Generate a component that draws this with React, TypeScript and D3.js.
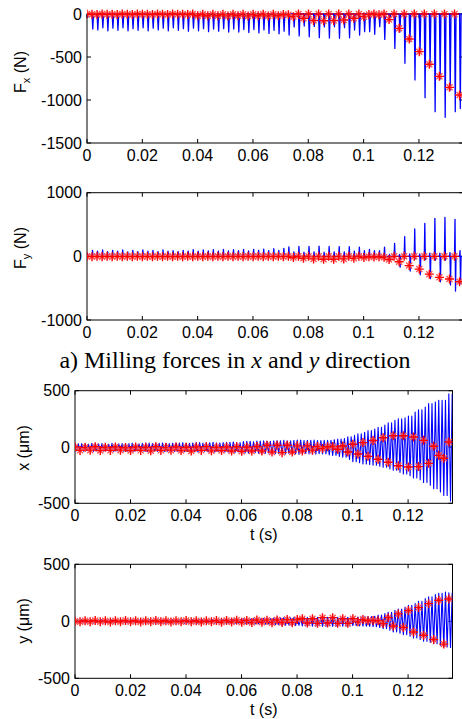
import React from 'react';
import * as d3 from 'd3';

// ---------- data ----------
const PERIOD = 0.00182; // tooth period, s (one sample per period)
const T_DOMAIN: [number, number] = [0, 0.136];
const X_TICKS = [0, 0.02, 0.04, 0.06, 0.08, 0.1, 0.12];

const FX_TICKS = [0, -500, -1000, -1500];
const FY_TICKS = [1000, 0, -1000];
const DISP_TICKS = [500, 0, -500];

// Fx: spike depth per tooth period (N)
const fxPeak = [
  -40, -175, -185, -160, -195, -165, -190, -160, -195, -170,
  -190, -160, -195, -165, -185, -165, -195, -160, -190, -170,
  -200, -165, -195, -170, -205, -175, -200, -170, -210, -175,
  -210, -180, -215, -180, -220, -185, -225, -190, -230, -200,
  -245, -150, -255, -140, -265, -145, -275, -150, -280, -148,
  -283, -159, -276, -186, -244, -205, -205, -236, -147, -295,
  -80, -400, -210, -573, -322, -767, -457, -973, -612, -1136,
  -756, -1201, -884, -1136, -1100,
];
// Fx: once-per-period samples (N)
const fxStar = [
  0, -3, -5, 0, -4, -2, -5, 0, -3, -5,
  0, -4, -2, -5, 0, -3, -5, 0, -4, -2,
  -5, 0, -20, -3, -20, -2, -20, -4, -22, -3,
  -20, -2, -22, -4, -20, -3, -22, -2, -20, -5,
  -8, -31, 0, -50, 0, -75, 0, -78, 0, -75,
  0, -70, 0, -50, 0, -31, -5, 0, -8, 0,
  -65, 0, -167, 0, -291, 0, -438, 0, -585, 0,
  -725, 0, -853, 0, -942,
];

// Fy: max / min per tooth period (N)
const fyHi = [
  40, 95, 80, 100, 75, 95, 80, 100, 70, 95,
  75, 100, 80, 95, 75, 100, 80, 90, 75, 95,
  80, 105, 80, 100, 85, 105, 80, 110, 85, 105,
  90, 110, 85, 110, 95, 115, 90, 120, 95, 125,
  150, 70, 155, 65, 155, 70, 160, 65, 155, 70,
  153, 70, 153, 80, 145, 90, 110, 90, 90, 145,
  30, 204, 30, 310, 40, 430, 40, 518, 50, 597,
  50, 612, 60, 581, 90,
];
const fyLo = [
  -10, -15, -10, -15, -10, -15, -10, -15, -10, -15,
  -10, -15, -10, -15, -10, -15, -10, -15, -10, -15,
  -10, -15, -10, -15, -10, -15, -10, -15, -10, -15,
  -10, -15, -10, -15, -10, -15, -10, -15, -10, -15,
  -10, -30, -10, -30, -10, -35, -10, -35, -10, -35,
  -10, -30, -10, -30, -10, -30, -20, -30, -20, -40,
  -80, -20, -170, -30, -230, -40, -290, -50, -350, -60,
  -400, -60, -450, -545, -430,
];
const fyStar = [
  0, -5, 0, -5, 0, -5, 0, -5, 0, -5,
  0, -5, 0, -5, 0, -5, 0, -5, 0, -5,
  0, -5, 0, -5, 0, -5, 0, -5, 0, -5,
  0, -5, 0, -5, 0, -5, 0, -5, 0, -5,
  0, -20, 0, -30, 0, -40, 0, -45, 0, -45,
  0, -40, 0, -30, 0, -20, -5, -10, -5, -15,
  -50, 0, -85, 0, -145, 0, -200, 0, -280, 0,
  -330, 0, -357, 0, -398,
];

// x displacement: upper / lower envelope per tooth period (um)
const xHi = [
  28, 30, 25, 32, 28, 30, 26, 33, 28, 30,
  30, 34, 28, 32, 35, 30, 33, 36, 30, 34,
  35, 38, 32, 36, 40, 35, 38, 42, 36, 40,
  42, 45, 40, 48, 50, 46, 52, 55, 50, 55,
  56, 60, 55, 60, 62, 58, 60, 62, 58, 60,
  60, 65, 70, 75, 90, 104, 118, 130, 145, 160,
  175, 195, 215, 237, 250, 260, 275, 310, 330, 355,
  385, 400, 414, 414, 473,
];
const xLo = [
  -35, -38, -32, -40, -35, -36, -33, -40, -35, -38,
  -38, -40, -35, -38, -42, -36, -40, -42, -38, -40,
  -40, -42, -38, -44, -45, -40, -44, -46, -42, -45,
  -46, -50, -45, -52, -55, -50, -56, -58, -55, -60,
  -60, -62, -58, -62, -65, -60, -62, -64, -60, -62,
  -70, -75, -85, -90, -110, -130, -140, -150, -155, -162,
  -170, -180, -195, -207, -225, -240, -255, -275, -290, -315,
  -340, -370, -400, -430, -480,
];
const xStar = [
  0, -30, -3, -28, 2, -32, -2, -30, 0, -28,
  -4, -32, 0, -30, -2, -34, 2, -30, -3, -28,
  0, -32, -2, -35, 0, -30, 3, -34, -2, -32,
  0, -35, 2, -38, 0, -36, 5, -35, 15, -44,
  15, -50, 15, -44, 10, -35, 10, -28, 5, -14,
  2, 5, -20, 9, -44, 24, -62, 39, -83, 58,
  -109, 82, -136, 100, -166, 100, -177, 89, -174, 59,
  -145, 6, -74, -100, 44,
];

// y displacement (um)
const yHi = [
  12, 15, 14, 16, 13, 15, 14, 17, 13, 15,
  14, 16, 13, 15, 16, 14, 15, 17, 14, 16,
  15, 17, 14, 16, 18, 15, 17, 18, 16, 18,
  18, 20, 18, 22, 20, 24, 22, 25, 24, 28,
  30, 32, 30, 35, 33, 36, 34, 38, 35, 38,
  36, 38, 35, 38, 36, 35, 38, 40, 42, 45,
  55, 67, 80, 96, 108, 125, 140, 155, 175, 199,
  215, 234, 245, 257, 250,
];
const yLo = [
  -12, -15, -14, -16, -13, -15, -14, -17, -13, -15,
  -14, -16, -13, -15, -16, -14, -15, -17, -14, -16,
  -15, -17, -14, -16, -18, -15, -17, -18, -16, -18,
  -18, -20, -18, -22, -20, -24, -22, -25, -24, -28,
  -30, -35, -32, -38, -35, -40, -36, -42, -38, -45,
  -40, -45, -38, -42, -40, -38, -40, -42, -45, -48,
  -55, -64, -78, -94, -105, -117, -130, -146, -160, -175,
  -185, -196, -210, -225, -230,
];
const yStar = [
  0, -5, 5, -3, 6, -5, 4, -6, 5, -4,
  6, -5, 5, -6, 4, -5, 6, -4, 5, -6,
  4, -5, 6, -5, 5, -6, 4, -5, 6, -8,
  8, -6, 10, -8, 8, -10, 12, -8, 10, -12,
  12, -10, 15, -12, 15, 23, -15, 23, -18, 32,
  -15, 32, -18, 23, -18, 23, -5, 15, 5, 8,
  5, -20, 32, -41, 65, -55, 95, -94, 120, -123,
  155, -160, 184, -200, 196,
];

// ---------- signal builders ----------
type Pt = [number, number];
function spikeSignal(peak: number[]): Pt[] {
  const pts: Pt[] = [];
  peak.forEach((v, k) => {
    const t0 = k * PERIOD;
    pts.push([t0, 0], [t0 + 0.15 * PERIOD, v], [t0 + 0.3 * PERIOD, 0]);
  });
  pts.push([peak.length * PERIOD, 0]);
  return pts;
}
function swingSignal(hi: number[], lo: number[]): Pt[] {
  const pts: Pt[] = [];
  hi.forEach((h, k) => {
    const t0 = k * PERIOD;
    pts.push([t0, 0], [t0 + 0.1 * PERIOD, h], [t0 + 0.2 * PERIOD, lo[k]], [t0 + 0.3 * PERIOD, 0]);
  });
  pts.push([hi.length * PERIOD, 0]);
  return pts;
}
function oscSignal(hi: number[], lo: number[]): Pt[] {
  const pts: Pt[] = [];
  hi.forEach((h, k) => {
    for (let j = 0; j < 3; j++) {
      const n = 3 * k + j;
      pts.push([(k + j / 3) * PERIOD, n % 2 === 0 ? h : lo[k]]);
    }
  });
  return pts;
}
function samples(vals: number[]): Pt[] {
  return vals.map((v, k) => [k * PERIOD, v]);
}

// ---------- panel ----------
const FONT = "'Liberation Sans', Arial, Helvetica, sans-serif";

type PanelProps = {
  id: string;
  left: number; right: number; top: number; bottom: number;
  yDomain: [number, number];
  yTicks: number[];
  signal: Pt[];
  stars: Pt[];
  lineWidth: number;
  ylabel: React.ReactNode;
  ylabelX: number; ylabelY: number;
  xlabel?: string; xlabelY?: number;
};

function Panel(p: PanelProps) {
  const x = d3.scaleLinear().domain(T_DOMAIN).range([p.left, p.right]);
  const y = d3.scaleLinear().domain(p.yDomain).range([p.bottom, p.top]);
  const line = d3.line<Pt>().x(d => x(d[0])).y(d => y(d[1]));
  const tl = 4;
  const plusPath = 'M-4.5,0H4.5M0,-4.5V4.5';
  const crossPath = 'M-3,-3L3,3M-3,3L3,-3';
  const fmt = (v: number) => (v === 0 ? '0' : String(v));
  return (
    <g>
      <defs>
        <clipPath id={p.id}>
          <rect x={p.left} y={p.top - 6} width={p.right - p.left} height={p.bottom - p.top + 12} />
        </clipPath>
      </defs>
      <rect x={p.left} y={p.top} width={p.right - p.left} height={p.bottom - p.top}
        fill="none" stroke="#000" strokeWidth={1} />
      {X_TICKS.map(t => (
        <g key={'xt' + t}>
          <line x1={x(t)} x2={x(t)} y1={p.bottom} y2={p.bottom - tl} stroke="#000" />
          <line x1={x(t)} x2={x(t)} y1={p.top} y2={p.top + tl} stroke="#000" />
          <text x={x(t)} y={p.bottom + 18} textAnchor="middle" fontFamily={FONT} fontSize={16}>
            {t === 0 ? '0' : String(t)}
          </text>
        </g>
      ))}
      {p.yTicks.map(v => (
        <g key={'yt' + v}>
          <line x1={p.left} x2={p.left + tl} y1={y(v)} y2={y(v)} stroke="#000" />
          <line x1={p.right} x2={p.right - tl} y1={y(v)} y2={y(v)} stroke="#000" />
          <text x={p.left - 5} y={y(v)} dy="0.36em" textAnchor="end" fontFamily={FONT} fontSize={16}>
            {fmt(v)}
          </text>
        </g>
      ))}
      <g clipPath={`url(#${p.id})`}>
        <path d={line(p.signal) || ''} fill="none" stroke="#0000ff" strokeWidth={p.lineWidth} strokeLinejoin="round" />
        {p.stars.map((s, i) => (
          <g key={i} transform={`translate(${x(s[0])},${y(s[1])})`} fill="none">
            <path d={crossPath} stroke="#ff5555" strokeWidth={1.4} />
            <path d={plusPath} stroke="#ff0000" strokeWidth={1.4} />
          </g>
        ))}
      </g>
      <text transform={`translate(${p.ylabelX},${p.ylabelY}) rotate(-90)`} textAnchor="middle"
        fontFamily={FONT} fontSize={16}>
        {p.ylabel}
      </text>
      {p.xlabel && (
        <text x={(p.left + p.right) / 2} y={p.xlabelY} textAnchor="middle" fontFamily={FONT} fontSize={16}>
          {p.xlabel}
        </text>
      )}
    </g>
  );
}

export default function App() {
  return (
    <svg width={462} height={719} viewBox="0 0 462 719"
      style={{ position: 'absolute', left: 0, top: 0, background: '#fff' }}>
      <rect x={0} y={0} width={462} height={719} fill="#fff" />
      <Panel id="c1" left={87} right={463.2} top={14} bottom={143}
        yDomain={[-1500, 0]} yTicks={FX_TICKS} lineWidth={1.3}
        signal={spikeSignal(fxPeak)} stars={samples(fxStar)}
        ylabel={<>F<tspan fontSize={11} dy={4}>x</tspan><tspan dy={-4}> (N)</tspan></>}
        ylabelX={26} ylabelY={72} />
      <Panel id="c2" left={87} right={463.2} top={192.7} bottom={320}
        yDomain={[-1000, 1000]} yTicks={FY_TICKS} lineWidth={1.3}
        signal={swingSignal(fyHi, fyLo)} stars={samples(fyStar)}
        ylabel={<>F<tspan fontSize={11} dy={4}>y</tspan><tspan dy={-4}> (N)</tspan></>}
        ylabelX={26} ylabelY={248} />
      <text x={235} y={368} textAnchor="middle" fontFamily="'Liberation Serif', 'Times New Roman', serif" fontSize={24}>
        a) Milling forces in <tspan fontStyle="italic">x</tspan> and <tspan fontStyle="italic">y</tspan> direction
      </text>
      <Panel id="c3" left={75} right={452.5} top={390.7} bottom={503.3}
        yDomain={[-500, 500]} yTicks={DISP_TICKS} lineWidth={1.1}
        signal={oscSignal(xHi, xLo)} stars={samples(xStar)}
        ylabel={<>x (μm)</>} ylabelX={28.5} ylabelY={448}
        xlabel="t (s)" xlabelY={540} />
      <Panel id="c4" left={75} right={452.5} top={564.3} bottom={678.3}
        yDomain={[-500, 500]} yTicks={DISP_TICKS} lineWidth={1.1}
        signal={oscSignal(yHi, yLo)} stars={samples(yStar)}
        ylabel={<>y (μm)</>} ylabelX={28.5} ylabelY={621}
        xlabel="t (s)" xlabelY={715} />
    </svg>
  );
}
